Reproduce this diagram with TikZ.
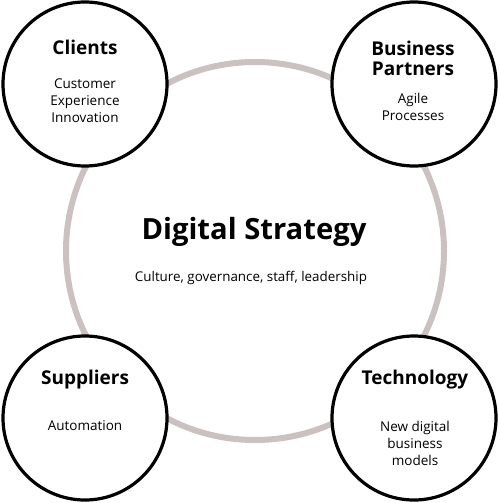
\documentclass[tikz,border=0pt]{standalone}
\usepackage{fontspec}
\setmainfont{Open Sans}
\definecolor{ringgrey}{RGB}{203,193,193}
\begin{document}
\begin{tikzpicture}[x=1pt,y=-1pt,
  ring/.style={circle,draw=ringgrey,line width=6pt,minimum size=378pt,inner sep=0pt},
  party/.style={circle,draw=black,line width=3.2pt,fill=white,minimum size=164pt,inner sep=0pt},
  head/.style={font=\fontsize{19}{20}\selectfont\bfseries,align=center,inner sep=0pt},
  sub/.style={font=\fontsize{13.5}{17}\selectfont,align=center,inner sep=0pt},
  title/.style={font=\fontsize{29.2}{32}\selectfont\bfseries,inner sep=0pt},
  subtitle/.style={font=\fontsize{13.4}{16}\selectfont,inner sep=0pt}]
\useasboundingbox (0,0) rectangle (500,503);
\node[ring] (core) at (255,251) {};
\node[party] (clients) at (85,84) {};
\node[party] (partners) at (414,84) {};
\node[party] (suppliers) at (85,418) {};
\node[party] (technology) at (414,418) {};
\node[title] (coreT) at (254,232) {Digital Strategy};
\node[subtitle] (coreS) at (251,278) {Culture, governance, staff, leadership};
\node[head] (clientsT) at (85,47) {Clients};
\node[sub] (clientsS) at (85,101) {Customer\\Experience\\Innovation};
\node[head] (partnersT) at (413,58) {Business\\Partners};
\node[sub] (partnersS) at (413,107) {Agile\\Processes};
\node[head] (suppliersT) at (85,380) {Suppliers};
\node[sub] (suppliersS) at (85,426) {Automation};
\node[head] (technologyT) at (415,380) {Technology};
\node[sub] (technologyS) at (415,443) {New digital\\business\\models};
\end{tikzpicture}
\end{document}
